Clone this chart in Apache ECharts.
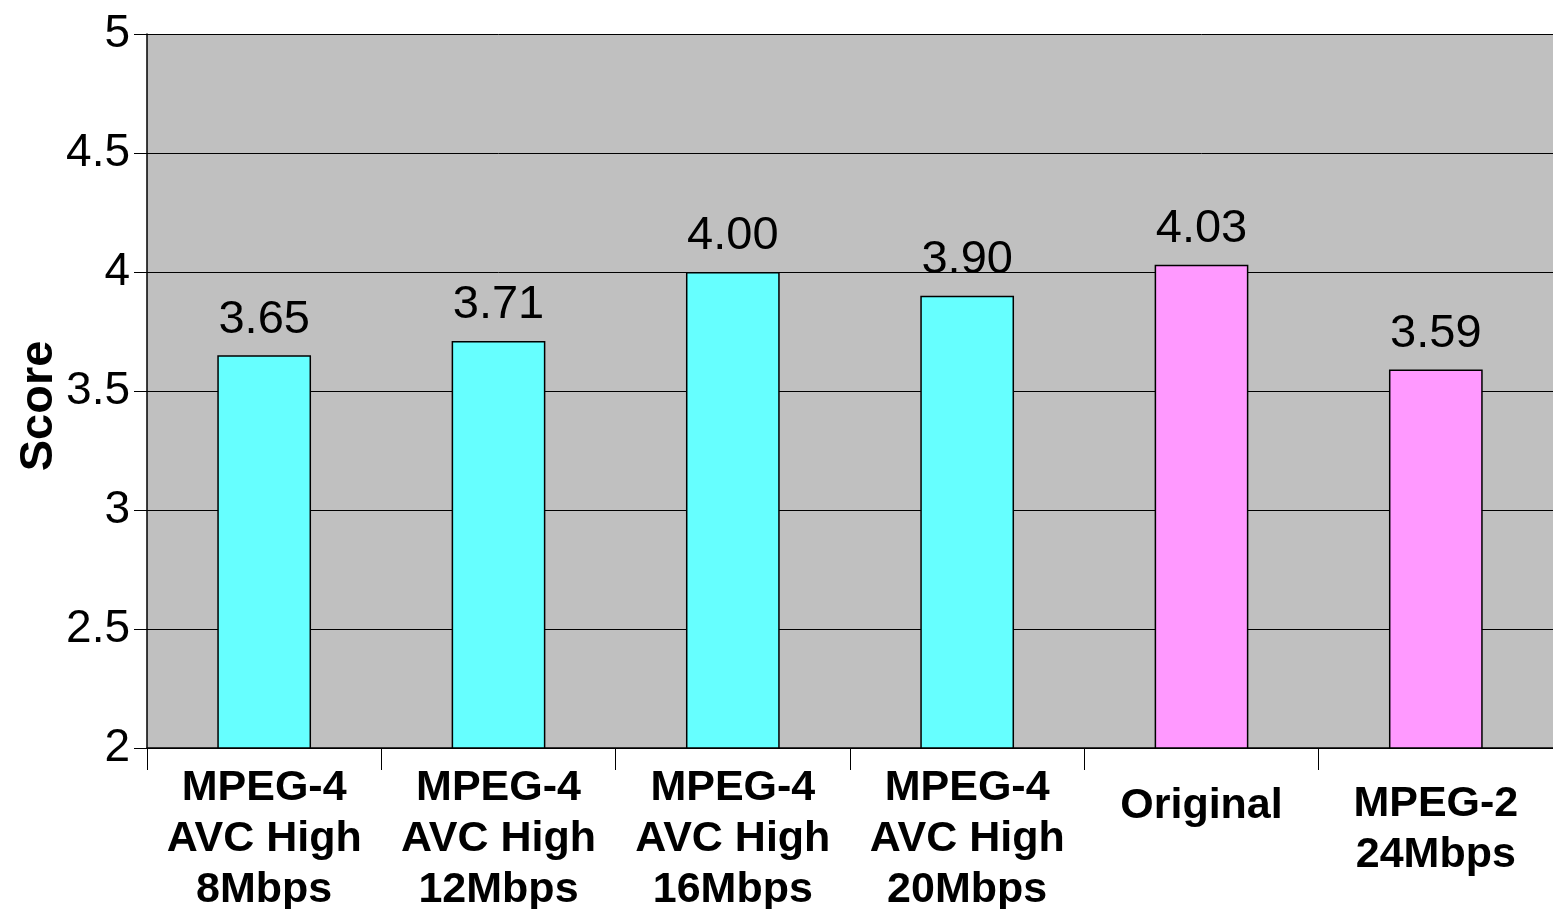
<!DOCTYPE html>
<html>
<head>
<meta charset="utf-8">
<script src="https://cdn.jsdelivr.net/npm/echarts@6/dist/echarts.min.js"></script>
<style>
  html, body { margin: 0; padding: 0; background: #fff; }
  #chart { width: 1553px; height: 909px; }
</style>
</head>
<body>
<div id="chart"></div>
<script>
// 编码方式
const categories = [
  'MPEG-4\nAVC High\n8Mbps',
  'MPEG-4\nAVC High\n12Mbps',
  'MPEG-4\nAVC High\n16Mbps',
  'MPEG-4\nAVC High\n20Mbps',
  'Original',
  'MPEG-2\n24Mbps'
];
// 平均得分
const scores = [3.65, 3.71, 4.00, 3.90, 4.03, 3.59];
// y轴刻度
const yTicks = [2, 2.5, 3, 3.5, 4, 4.5, 5];

const chart = echarts.init(document.getElementById('chart'));
const font = 'Liberation Sans, Arial, sans-serif';

// 顶部留白随行数不同
const topPad = { 1: 18, 2: 16, 3: 0 };

const option = {
  animation: false,
  textStyle: { fontFamily: font },
  grid: {
    left: 147,
    right: 0,
    top: 34,
    bottom: 161,
    outerBoundsMode: 'none',
    containLabel: false,
    show: true,
    backgroundColor: '#C0C0C0',
    borderWidth: 0
  },
  xAxis: {
    type: 'category',
    data: categories.map(c => ({
      value: c,
      textStyle: { padding: [topPad[c.split('\n').length], 0, 0, 0] }
    })),
    axisLine: { lineStyle: { color: '#000', width: 1.5 } },
    axisTick: { show: true, length: 22, lineStyle: { color: '#000' } },
    axisLabel: {
      color: '#000',
      fontSize: 43,
      fontWeight: 'bold',
      fontFamily: font,
      lineHeight: 51,
      margin: 15,
      interval: 0
    }
  },
  yAxis: {
    type: 'value',
    min: yTicks[0],
    max: yTicks[yTicks.length - 1],
    interval: 0.5,
    name: 'Score',
    nameLocation: 'middle',
    nameRotate: 90,
    nameGap: 84,
    nameMoveOverlap: false,
    nameTextStyle: {
      fontSize: 47, fontWeight: 'bold', color: '#000', fontFamily: font,
      padding: [0, 30, 0, 0]
    },
    axisLine: { show: true, lineStyle: { color: '#000', width: 1.5 } },
    axisTick: { show: true, length: 13, lineStyle: { color: '#000' } },
    axisLabel: { color: '#000', fontSize: 46, margin: 17, fontFamily: font },
    splitLine: { show: true, lineStyle: { color: '#000', width: 1 } }
  },
  series: [{
    type: 'bar',
    data: scores,
    barWidth: '40%',
    itemStyle: {
      color: p => (p.dataIndex < 4 ? '#66FFFF' : '#FF99FF'),
      borderColor: '#000',
      borderWidth: 1.5
    },
    label: {
      show: true,
      position: 'top',
      distance: 12,
      color: '#000',
      fontSize: 47,
      fontFamily: font,
      formatter: p => p.value.toFixed(2)
    }
  }]
};

chart.setOption(option);
</script>
</body>
</html>
